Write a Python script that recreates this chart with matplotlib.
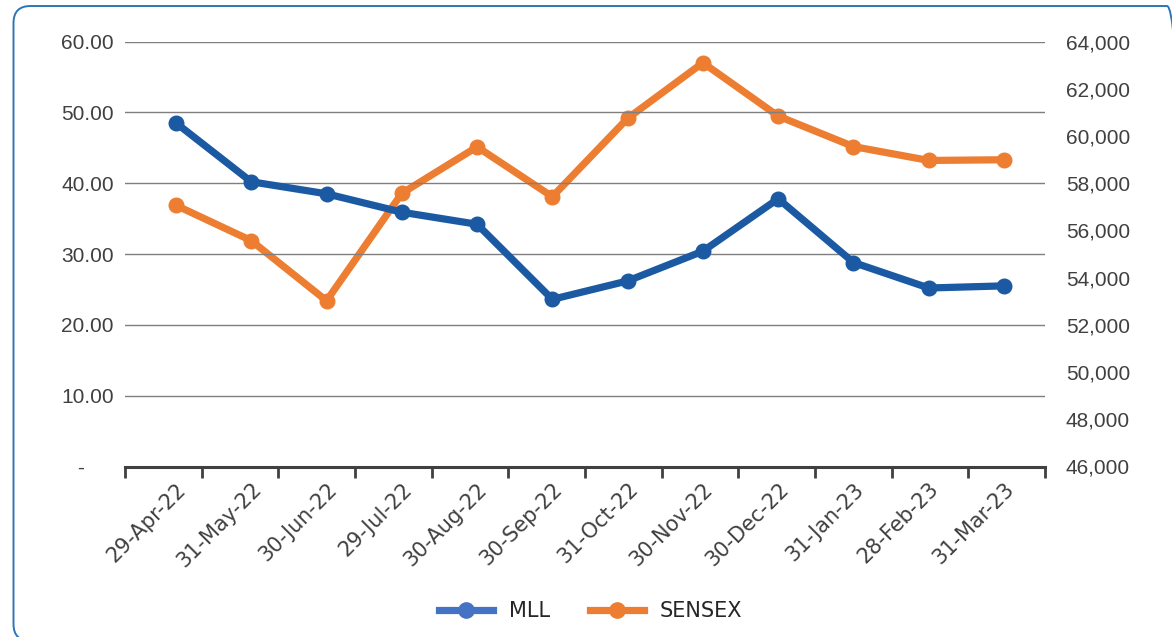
import matplotlib
matplotlib.use("Agg")
import matplotlib.pyplot as plt
from matplotlib.patches import FancyBboxPatch
from matplotlib.lines import Line2D
from matplotlib.ticker import FuncFormatter, FixedLocator
from matplotlib.transforms import IdentityTransform
import numpy as np

dates = ["29-Apr-22", "31-May-22", "30-Jun-22", "29-Jul-22", "30-Aug-22", "30-Sep-22",
         "31-Oct-22", "30-Nov-22", "30-Dec-22", "31-Jan-23", "28-Feb-23", "31-Mar-23"]
mll = [48.5, 40.2, 38.5, 35.9, 34.2, 23.6, 26.2, 30.4, 37.8, 28.8, 25.2, 25.5]
sensex = [57061, 55566, 53019, 57570, 59537, 57427, 60747, 63100, 60841, 59550, 58962, 58992]

W, H = 1172, 637
plt.rcParams['font.family'] = ['Liberation Sans', 'DejaVu Sans']
fig = plt.figure(figsize=(W / 100, H / 100), dpi=100)

# rounded border (pixel coordinates, y from bottom)
bx0, bx1 = 13.5, 1184
by_top, by_bot = 6, 641
border = FancyBboxPatch((bx0, H - by_bot), bx1 - bx0, by_bot - by_top,
                        boxstyle="round,pad=0,rounding_size=17",
                        transform=IdentityTransform(), fill=False,
                        edgecolor="#2E75B6", linewidth=1.4, clip_on=False)
fig.patches.append(border)

left, right = 125, 1045
top, bottom = 41.5, 466.5
ax = fig.add_axes([left / W, 1 - bottom / H, (right - left) / W, (bottom - top) / H])
ax2 = ax.twinx()

x = np.arange(len(dates))
x0, x1 = -0.677, len(dates) - 1 + 0.544
ax.set_xlim(x0, x1)

blue = "#1B5AA2"
orange = "#ED7D31"
ax.plot(x, mll, color=blue, lw=5.2, marker="o", ms=10.5, solid_capstyle="round",
        solid_joinstyle="round", zorder=3)
ax2.plot(x, sensex, color=orange, lw=5.2, marker="o", ms=10.5, solid_capstyle="round",
         solid_joinstyle="round", zorder=3)
ax.set_zorder(ax2.get_zorder() + 1)
ax.patch.set_visible(False)

ax.set_ylim(0, 60)
ax.set_yticks(np.arange(0, 61, 10))
ax.yaxis.set_major_formatter(FuncFormatter(lambda v, p: "-     " if v == 0 else f"{v:.2f}"))
ax2.set_ylim(46000, 64000)
ax2.set_yticks(np.arange(46000, 64001, 2000))
ax2.yaxis.set_major_formatter(FuncFormatter(lambda v, p: f"{int(v):,}"))

ax.grid(axis="y", color="#7F7F7F", lw=1.0)
ax.set_axisbelow(True)
for a in (ax, ax2):
    for s in a.spines.values():
        s.set_visible(False)
ax.spines["bottom"].set_visible(True)
ax.spines["bottom"].set_color("#404040")
ax.spines["bottom"].set_linewidth(2.2)
ax.spines["bottom"].set_zorder(5)

ax.tick_params(axis="y", length=0, pad=8, labelsize=15, labelcolor="#404040")
ax2.tick_params(axis="y", length=0, pad=15, labelsize=15, labelcolor="#404040")

# category boundary ticks
bounds = np.linspace(x0, x1, len(dates) + 1)
ax.xaxis.set_major_locator(FixedLocator(x))
ax.set_xticklabels(dates, rotation=45, ha="right", rotation_mode="anchor",
                   fontsize=15, color="#404040", family="DejaVu Sans")
ax.tick_params(axis="x", which="major", length=0, pad=9)
ax.xaxis.set_minor_locator(FixedLocator(bounds))
ax.tick_params(axis="x", which="minor", length=8, width=2, color="#404040")

handles = [Line2D([0], [0], color="#4472C4", lw=5.2, marker="o", ms=11),
           Line2D([0], [0], color=orange, lw=5.2, marker="o", ms=11)]
fig.legend(handles, ["MLL", "SENSEX"], loc="center", bbox_to_anchor=(0.504, 1 - 611 / H),
           ncol=2, frameon=False, prop={"family": "DejaVu Sans", "size": 15},
           handlelength=2.6, columnspacing=1.9, handletextpad=0.75, labelcolor="#262626")

fig.savefig("out.png", dpi=100)
